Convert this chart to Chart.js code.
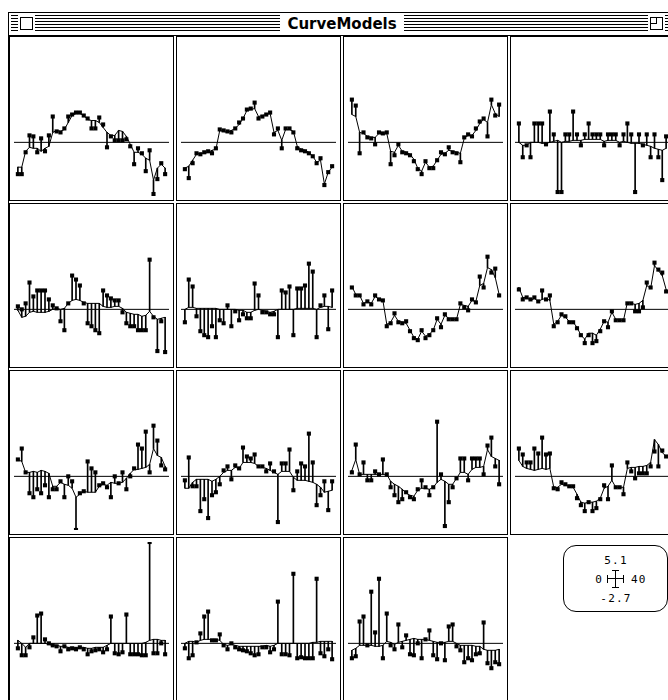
<!DOCTYPE html>
<html>
<head>
<meta charset="utf-8">
<title>CurveModels</title>
<script src="https://cdn.jsdelivr.net/npm/chart.js@4.4.1/dist/chart.umd.min.js"></script>
<style>
  body { margin: 0; width: 668px; height: 700px; overflow: hidden; background: #fff; position: relative; color: #000; }
  #winLeft { position: absolute; left: 8px; top: 12px; width: 1px; height: 700px; background: #000; }
  #titlebar { position: absolute; left: 8px; top: 12px; width: 720px; height: 22px; border: 1px solid #000; background: #fff; }
  #stripes { position: absolute; left: 2px; top: 2px; width: 720px; height: 17px;
    background: repeating-linear-gradient(to bottom, #000 0 1px, #fff 1px 3px); }
  .gap { position: absolute; top: 0; height: 22px; background: #fff; }
  .box { position: absolute; top: 4px; width: 11px; height: 11px; border: 1px solid #000; background: #fff; }
  #title { font: bold 15px "DejaVu Sans", sans-serif; line-height: 22px; text-align: center; color: #000; }
  .panel { position: absolute; width: 163px; height: 163px; border: 1px solid #000; background: #fff; }
  .panel canvas { display: block; }
  #legend { position: absolute; left: 563px; top: 545px; width: 103px; height: 65px; border: 1px solid #000; border-radius: 13px; }
  .lt { position: absolute; font: 11px "DejaVu Sans Mono", monospace; letter-spacing: 1.2px; line-height: 11px;
    white-space: nowrap; color: #000; -webkit-font-smoothing: antialiased; }
</style>
</head>
<body>
<div id="winLeft"></div>
<div id="titlebar">
  <div id="stripes"></div>
  <div class="gap" style="left:9px;width:17px;"><div class="box" style="left:2px;"></div></div>
  <div class="gap" id="title" style="left:271px;width:124px;">CurveModels</div>
  <div class="gap" style="left:639px;width:17px;"><div class="box" style="left:2px;"><div style="position:absolute;left:0;top:0;width:5px;height:5px;border-right:1px solid #000;border-bottom:1px solid #000;"></div></div></div>
</div>

<script>
// x positions and axis range (legend shows 0..40, -2.7..5.1)
const xs = [1,2,3,4,5,6,7,8,9,10,11,12,13,14,15,16,17,18,19,20,21,22,23,24,25,26,27,28,29,30,31,32,33,34,35,36,37,38,39];
const xMin = 0, xMax = 40;
const yMin = -2.7, yMax = 5.1;

// observed values and fitted curve, one pair per panel
const obs1 = [-1.6,-1.6,-0.5,0.35,0.3,-0.5,0.2,-0.45,0.35,1.3,0.55,0.5,0.7,1.3,1.4,1.5,1.5,1.35,1.2,0.7,0.7,1.25,0.9,-0.25,0.3,0.1,0.1,0.1,0.15,-0.2,-1.1,-0.3,-0.55,-1.45,-0.4,-2.6,-1.85,-1.05,-1.6];
const fit1 = [-1.25,-1.25,-0.45,-0.25,-0.3,-0.3,-0.45,-0.3,-0.2,0.5,0.6,0.55,0.65,1.0,1.35,1.45,1.45,1.35,1.15,1.1,1.1,1.0,0.75,0.5,0.35,0.35,0.6,0.55,0.3,-0.1,-0.5,-0.5,-0.6,-0.8,-0.9,-1.9,-1.3,-1.1,-1.3];

const obs2 = [-1.35,-1.8,-1.05,-0.55,-0.6,-0.5,-0.45,-0.55,-0.3,0.65,0.6,0.55,0.5,0.7,1.0,1.2,1.65,1.7,2.0,1.2,1.3,1.4,1.5,0.4,0.7,-0.3,0.7,0.7,0.5,-0.3,-0.4,-0.45,-0.55,-0.7,-1.05,-0.8,-2.15,-1.5,-1.2];
const fit2 = [-1.3,-1.2,-0.9,-0.6,-0.55,-0.55,-0.5,-0.4,-0.35,0.6,0.55,0.5,0.6,0.7,0.9,1.2,1.6,1.65,1.7,1.3,1.35,1.4,1.45,0.5,0.6,0.1,0.65,0.65,0.55,-0.2,-0.35,-0.4,-0.5,-0.7,-1.0,-0.9,-2.1,-1.5,-1.25];

const obs3 = [2.15,1.85,-0.55,0.5,0.25,0.2,-0.1,0.5,0.45,0.5,-1.1,-0.65,-0.1,-0.5,-0.55,-0.65,-0.95,-1.35,-1.6,-0.95,-1.3,-1.3,-0.9,-0.5,-0.6,-0.25,-0.5,-0.55,-1.0,0.25,0.4,0.3,0.7,1.05,1.2,0.3,2.15,1.35,1.9];
const fit3 = [1.4,1.3,0.5,0.45,0.3,0.25,0.25,0.45,0.4,0.45,-0.45,-0.5,-0.15,-0.45,-0.5,-0.6,-0.85,-1.3,-1.45,-1.0,-1.25,-1.2,-0.9,-0.6,-0.55,-0.4,-0.45,-0.5,-0.55,0.2,0.35,0.35,0.6,0.95,1.15,1.0,1.9,1.45,1.3];

const obs4 = [0.95,-0.75,-0.15,-0.75,0.95,0.95,0.95,-0.1,1.55,0.4,-2.5,-2.5,0.4,0.4,1.55,0.4,-0.15,0.4,0.95,0.4,0.4,0.4,-0.15,0.4,0.4,0.4,-0.15,0.4,0.95,0.4,-2.5,0.4,-0.15,0.4,-0.75,0.4,-0.75,-1.9,0.3];
const fit4 = [0.0,-0.15,-0.15,0.0,0.0,0.0,-0.05,-0.05,0.0,0.05,0.1,0.0,0.05,0.05,0.1,0.1,0.1,0.15,0.15,0.15,0.15,0.15,0.05,0.1,0.1,0.1,0.0,0.05,0.0,-0.05,-0.05,-0.05,-0.1,-0.15,-0.2,-0.3,-0.35,-0.4,-0.3];

const obs5 = [0.15,0.0,0.3,1.35,0.65,0.95,0.95,0.95,0.5,0.2,0.05,-0.6,-1.05,0.3,1.7,1.5,1.2,0.3,-0.7,-0.85,-1.05,-1.2,0.95,0.7,0.55,0.45,0.45,-0.15,-0.7,-0.85,-0.85,-1.05,-1.05,-1.05,2.5,-0.4,-2.1,-0.6,-2.15];
const fit5 = [-0.05,-0.4,-0.35,-0.15,-0.1,-0.15,-0.15,-0.15,-0.1,0.0,0.05,0.0,0.05,0.3,0.45,0.5,0.45,0.35,0.3,0.3,0.3,0.3,0.15,0.1,0.1,0.15,0.15,0.05,-0.15,-0.2,-0.25,-0.25,-0.35,-0.3,-0.1,-0.35,-0.5,-0.45,-0.4];

const obs6 = [-0.65,1.5,1.15,-0.35,-1.1,-1.3,-1.4,-0.85,-1.4,-0.55,-0.7,0.2,-0.85,-0.1,-0.55,-0.25,-0.45,-0.45,1.3,0.7,-0.15,-0.15,-0.25,-0.25,-1.4,0.95,0.85,1.15,-1.3,1.05,1.05,1.2,2.3,1.9,-1.4,0.2,0.7,-1.0,0.95];
const fit6 = [0.0,0.1,0.1,0.05,0.05,0.05,0.05,0.05,0.05,0.0,0.0,0.0,0.0,0.0,-0.05,-0.05,-0.15,-0.15,-0.05,0.0,-0.05,-0.1,-0.15,-0.1,0.0,0.0,0.0,0.0,0.0,0.05,0.05,0.05,0.05,0.05,0.0,0.1,0.15,0.15,0.1];

const obs7 = [1.1,0.7,0.7,0.25,0.4,0.25,0.7,0.5,0.45,-0.85,-0.7,-0.2,-0.65,-0.7,-0.6,-1.1,-1.45,-1.55,-1.05,-1.45,-1.3,-1.05,-0.45,-0.9,-0.25,-0.5,-0.5,-0.5,0.3,0.1,-0.05,0.5,0.35,1.65,1.1,2.65,1.85,2.05,0.7];
const fit7 = [1.15,0.75,0.7,0.3,0.4,0.3,0.65,0.5,0.45,-0.75,-0.65,-0.3,-0.6,-0.65,-0.7,-1.05,-1.4,-1.5,-1.1,-1.35,-1.25,-1.05,-0.5,-0.75,-0.3,-0.45,-0.5,-0.5,0.25,0.2,0.15,0.45,0.4,1.2,1.3,2.1,2.0,1.6,0.75];

const obs8 = [1.0,0.5,0.6,0.5,0.6,0.4,0.95,0.5,0.7,-0.85,-0.65,-0.25,-0.35,-0.65,-0.65,-0.95,-1.3,-1.7,-1.3,-1.7,-1.6,-1.1,-0.6,-0.9,-0.1,-0.55,-0.55,-0.55,0.3,0.3,-0.1,-0.1,0.1,1.35,1.1,2.35,2.0,1.85,0.9];
const fit8 = [1.1,0.6,0.6,0.45,0.55,0.4,0.5,0.55,0.45,-0.75,-0.6,-0.3,-0.4,-0.6,-0.65,-0.9,-1.3,-1.5,-1.2,-1.2,-1.3,-1.0,-0.6,-0.65,-0.15,-0.5,-0.55,-0.55,0.35,0.3,0.25,0.3,0.45,1.2,1.05,2.2,1.95,1.7,1.0];

const obs9 = [0.85,1.4,0.2,-0.85,-1.05,-0.65,-0.85,-0.45,-1.05,-0.65,-0.65,-0.25,-1.05,0.0,-0.25,-2.7,-0.85,-0.75,0.75,0.4,0.2,-0.45,-0.35,-0.55,-1.05,0.0,-0.35,0.2,-0.65,0.0,0.4,1.6,1.4,2.25,0.2,2.55,1.8,0.55,0.35];
const fit9 = [0.85,0.75,0.2,0.2,0.25,0.2,0.3,0.25,0.15,-0.5,-0.5,-0.3,-0.4,-0.45,-0.6,-1.05,-0.9,-0.75,-0.8,-0.8,-0.8,-0.5,-0.4,-0.45,-0.3,-0.35,-0.35,-0.3,-0.1,0.15,0.35,0.35,0.4,0.45,0.6,1.4,1.05,0.95,0.5];

const obs10 = [-0.2,0.95,-0.5,-0.5,-1.75,-1.15,-2.1,-0.95,-0.8,-0.4,0.3,0.5,-0.15,0.55,0.4,1.45,1.0,0.9,1.1,0.5,0.5,0.25,0.65,0.25,-2.3,0.65,0.65,1.35,-0.7,0.25,0.65,0.5,2.15,0.7,-1.45,-0.95,-0.25,-1.7,-0.25];
const fit10 = [-0.6,-0.6,-0.3,-0.15,-0.15,-0.15,-0.15,-0.25,-0.15,0.0,0.2,0.3,0.3,0.45,0.4,0.7,0.7,0.7,0.65,0.5,0.45,0.4,0.3,0.2,0.1,0.25,0.25,0.25,-0.05,-0.2,-0.2,-0.2,-0.25,-0.3,-0.4,-0.55,-0.8,-0.75,-0.7];

const obs11 = [0.2,1.6,0.1,0.7,-0.2,-0.2,0.25,0.1,0.85,0.1,-0.55,-0.95,-1.3,-1.15,-0.8,-1.05,-1.15,-0.65,-0.2,-0.55,-0.95,-0.55,2.75,0.1,-2.5,-1.3,-0.55,-0.1,0.9,0.9,-0.2,0.9,0.9,0.9,0.1,1.55,1.95,0.5,-0.4];
const fit11 = [0.3,0.85,0.1,0.1,0.1,0.1,0.1,0.1,0.1,0.1,-0.25,-0.4,-0.5,-0.65,-0.85,-0.95,-1.0,-0.7,-0.6,-0.6,-0.65,-0.55,-0.3,-0.15,-0.25,-0.4,-0.4,-0.1,0.2,0.2,0.1,0.35,0.45,0.45,0.5,1.35,1.0,0.9,0.8];

const obs12 = [1.4,1.1,0.7,0.7,1.4,1.15,1.95,1.1,1.15,-0.6,-0.65,-0.3,-0.4,-0.5,-0.5,-1.1,-1.45,-1.75,-1.3,-1.75,-1.6,-1.15,-0.45,-1.15,0.55,-0.55,-0.55,-0.9,0.7,0.25,-0.1,0.15,0.15,0.15,0.5,1.25,0.5,1.3,1.0];
const fit12 = [0.8,0.5,0.4,0.35,0.3,0.35,0.4,0.35,0.4,-0.55,-0.55,-0.4,-0.45,-0.5,-0.55,-0.9,-1.3,-1.35,-1.3,-1.3,-1.25,-1.1,-0.6,-0.5,-0.2,-0.55,-0.55,-0.55,0.4,0.45,0.45,0.5,0.5,0.55,0.7,1.85,1.6,1.2,1.0];

const obs13 = [-0.25,-0.6,-0.6,-0.2,0.3,1.4,1.5,0.2,0.0,-0.1,-0.15,-0.4,-0.15,-0.3,-0.25,-0.3,-0.2,-0.3,-0.55,-0.4,-0.35,-0.3,-0.45,-0.3,1.35,-0.5,-0.55,-0.45,1.45,-0.55,-0.55,-0.55,-0.6,-0.6,5.1,-0.5,-0.5,0.0,-0.55];
const fit13 = [0.15,0.0,-0.2,0.0,0.0,0.0,0.0,0.0,-0.05,-0.1,-0.1,-0.15,-0.15,-0.2,-0.2,-0.2,-0.2,-0.2,-0.25,-0.25,-0.2,-0.2,-0.2,-0.1,0.0,0.0,0.0,0.0,0.0,0.0,0.0,0.0,0.0,0.05,0.15,0.2,0.2,0.15,0.15];

const obs14 = [-0.25,-0.75,-0.6,0.05,0.5,1.35,1.6,0.15,0.15,0.45,-0.1,-0.3,0.0,-0.2,-0.3,-0.35,-0.4,-0.5,-0.6,-0.55,-0.2,-0.2,-0.45,-0.3,2.1,-0.55,-0.55,-0.6,3.5,-0.75,-0.7,-0.75,-0.75,-0.75,3.25,-0.5,-0.65,-0.3,-0.8];
const fit14 = [0.0,0.1,0.1,0.05,0.15,0.2,0.2,0.2,0.2,0.15,-0.05,-0.1,-0.05,-0.1,-0.15,-0.15,-0.15,-0.15,-0.15,-0.15,-0.15,-0.1,-0.15,-0.1,0.0,0.0,0.0,0.0,0.0,0.0,0.0,0.0,0.0,0.05,0.05,0.1,0.1,0.1,0.1];

const obs15 = [-0.75,-0.65,1.1,1.35,-0.1,2.6,0.55,3.25,-0.75,1.5,-0.1,-0.3,0.95,-0.2,0.4,-0.55,-0.6,0.0,-0.75,0.2,0.65,-0.6,-0.8,0.0,-0.85,0.85,0.95,-0.15,-0.35,-0.95,-0.75,-0.85,-0.55,-0.5,1.05,-1.0,-1.25,-0.95,-1.05];
const fit15 = [-0.35,-0.25,-0.1,-0.1,-0.1,-0.1,-0.15,-0.15,-0.1,0.1,0.05,-0.05,0.05,0.1,0.15,0.2,0.25,0.2,0.2,0.2,0.15,0.1,0.05,0.05,0.05,0.1,0.1,0.0,-0.1,-0.1,-0.1,-0.1,-0.15,-0.15,-0.3,-0.35,-0.35,-0.35,-0.3];

const panels = [
  [obs1, fit1], [obs2, fit2], [obs3, fit3], [obs4, fit4],
  [obs5, fit5], [obs6, fit6], [obs7, fit7], [obs8, fit8],
  [obs9, fit9], [obs10, fit10], [obs11, fit11], [obs12, fit12],
  [obs13, fit13], [obs14, fit14], [obs15, fit15]
];

// grid layout of the window
const colLeft = [9, 176, 343, 510];
const rowTop = [36, 203, 370, 537];

const makePanel = (obs, fit, left, top) => {
    const div = document.createElement('div');
    div.className = 'panel';
    div.style.left = left + 'px';
    div.style.top = top + 'px';
    const canvas = document.createElement('canvas');
    canvas.width = 163;
    canvas.height = 163;
    div.appendChild(canvas);
    document.body.appendChild(div);

    new Chart(canvas.getContext('2d'), {
        type: 'bar',
        data: {
            datasets: [
                {
                    type: 'line',
                    data: obs.map((v, i) => ({x: xs[i], y: v})),
                    showLine: false,
                    pointStyle: 'rect',
                    pointRadius: 2.9,
                    pointBorderWidth: 0,
                    pointBackgroundColor: '#000',
                    order: 0
                },
                {
                    type: 'line',
                    data: fit.map((v, i) => ({x: xs[i], y: v})),
                    borderColor: '#000',
                    borderWidth: 1,
                    pointRadius: 0,
                    tension: 0,
                    order: 1
                },
                {
                    type: 'bar',
                    data: obs.map((v, i) => ({x: xs[i], y: [fit[i], v]})),
                    barThickness: 1,
                    backgroundColor: '#000',
                    borderWidth: 0,
                    order: 2
                },
                {
                    type: 'line',
                    data: [{x: xMin, y: 0}, {x: xMax, y: 0}],
                    borderColor: '#000',
                    borderWidth: 1,
                    pointRadius: 0,
                    order: 3
                }
            ]
        },
        options: {
            responsive: false,
            animation: false,
            events: [],
            layout: {padding: 0},
            plugins: {legend: {display: false}, tooltip: {enabled: false}},
            scales: {
                x: {type: 'linear', min: xMin, max: xMax, offset: false, display: false},
                y: {type: 'linear', min: yMin, max: yMax, display: false}
            }
        }
    });
};

panels.forEach((p, k) => {
    makePanel(p[0], p[1], colLeft[k % 4], rowTop[Math.floor(k / 4)]);
});

// range legend box in the empty corner
const legend = document.createElement('div');
legend.id = 'legend';
document.body.appendChild(legend);
const addText = (txt, css) => {
    const d = document.createElement('div');
    d.className = 'lt';
    d.textContent = txt;
    Object.assign(d.style, css);
    document.body.appendChild(d);
};
addText(String(yMax), {left: '565px', width: '102px', textAlign: 'center', top: '555px'});
addText(String(xMin), {left: '560px', width: '43px', textAlign: 'right', top: '574px'});
addText(String(xMax), {left: '631px', top: '574px'});
addText(String(yMin), {left: '565px', width: '102px', textAlign: 'center', top: '593px'});

const icon = document.createElementNS('http://www.w3.org/2000/svg', 'svg');
icon.setAttribute('width', '20');
icon.setAttribute('height', '22');
icon.style.position = 'absolute';
icon.style.left = '606px';
icon.style.top = '568px';
icon.innerHTML = '<g stroke="#000" stroke-width="1" shape-rendering="crispEdges">' +
    '<line x1="9.5" y1="2" x2="9.5" y2="20"/>' +
    '<line x1="6" y1="2.5" x2="13" y2="2.5"/>' +
    '<line x1="6" y1="19.5" x2="13" y2="19.5"/>' +
    '<line x1="1" y1="10.5" x2="18" y2="10.5"/>' +
    '<line x1="1.5" y1="7" x2="1.5" y2="15"/>' +
    '<line x1="17.5" y1="7" x2="17.5" y2="15"/></g>';
document.body.appendChild(icon);
</script>
</body>
</html>
